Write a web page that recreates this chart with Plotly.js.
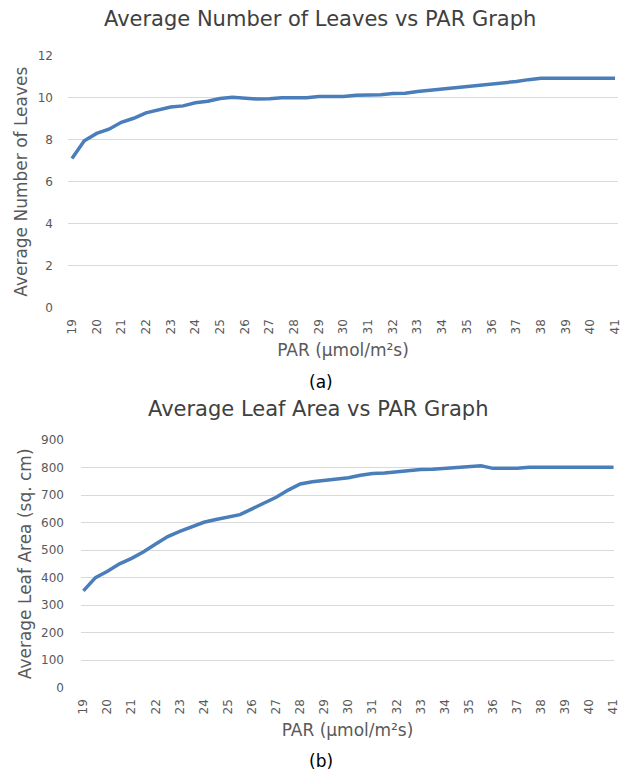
<!DOCTYPE html>
<html>
<head>
<meta charset="utf-8">
<script src="https://cdn.plot.ly/plotly-3.0.1.min.js"></script>
<style>html,body{margin:0;padding:0;background:#fff;}#chart{width:633px;height:772px;}</style>
</head>
<body>
<div id="chart"></div>
<script>
const par = [19, 19.5, 20, 20.5, 21, 21.5, 22, 22.5, 23, 23.5, 24, 24.5, 25, 25.5, 26, 26.5, 27, 27.5, 28, 28.5, 29, 29.5, 30, 30.5, 31, 31.5, 32, 32.5, 33, 33.5, 34, 34.5, 35, 35.5, 36, 36.5, 37, 37.5, 38, 38.5, 39, 39.5, 40, 40.5, 41];
const avgLeaves = [7.1, 7.95, 8.3, 8.5, 8.83, 9.02, 9.28, 9.44, 9.56, 9.61, 9.76, 9.83, 9.96, 10.02, 9.96, 9.94, 9.95, 10.0, 10.0, 10.0, 10.06, 10.06, 10.06, 10.12, 10.13, 10.14, 10.2, 10.21, 10.3, 10.36, 10.39, 10.47, 10.54, 10.6, 10.67, 10.73, 10.77, 10.86, 10.93, 10.93, 10.93, 10.93, 10.93, 10.93, 10.93];
const avgLeafArea = [352, 400, 423, 450, 470, 494, 522, 549, 568, 586, 601, 611, 620, 629, 650, 670, 692, 718, 740, 748, 753, 758, 763, 772, 778, 780, 785, 789, 793, 794, 797, 798, 800, 806, 797, 797, 797, 801, 801, 801, 801, 801, 801, 801, 801];
const xTicks = [19, 20, 21, 22, 23, 24, 25, 26, 27, 28, 29, 30, 31, 32, 33, 34, 35, 36, 37, 38, 39, 40, 41];
const titleA = "Average Number of Leaves vs PAR Graph";
const titleB = "Average Leaf Area vs PAR Graph";
const xTitle = "PAR (µmol/m²s)";
const yTitleA = "Average Number of Leaves";
const yTitleB = "Average Leaf Area (sq. cm)";

const FONT = "DejaVu Sans, sans-serif";
const lineColor = "#4A7EBB";
const tickFont = {family: FONT, size: 12, color: "#595959"};
const axTitleFont = {family: FONT, size: 17, color: "#595959"};

const traces = [
  {x: par, y: avgLeaves, type: "scatter", mode: "lines", line: {color: lineColor, width: 3.5, shape: "linear"}, xaxis: "x", yaxis: "y", hoverinfo: "skip"},
  {x: par, y: avgLeafArea, type: "scatter", mode: "lines", line: {color: lineColor, width: 3.5, shape: "linear"}, xaxis: "x2", yaxis: "y2", hoverinfo: "skip"}
];

function xAxis(domain, range, anchor) {
  return {
    domain: domain, range: range, anchor: anchor,
    tickmode: "array", tickvals: xTicks, ticktext: xTicks.map(String),
    tickangle: -90, tickfont: tickFont, ticks: "", ticklabelstandoff: 8,
    showgrid: false, zeroline: false, showline: false,
    title: {text: xTitle, font: axTitleFont, standoff: 10}
  };
}
function yAxis(domain, range, dtick, anchor, title, lblGap) {
  return {
    domain: domain, range: range, anchor: anchor, dtick: dtick, tick0: 0,
    tickfont: tickFont, ticks: "", ticklabelstandoff: lblGap,
    showgrid: true, gridcolor: "#d9d9d9", gridwidth: 1,
    zeroline: false, showline: false,
    title: {text: title, font: axTitleFont, standoff: 5}
  };
}

const layout = {
  width: 633, height: 772,
  margin: {l: 0, r: 0, t: 0, b: 0},
  paper_bgcolor: "#ffffff", plot_bgcolor: "#ffffff",
  showlegend: false,
  font: {family: FONT},
  xaxis: xAxis([68/633, 618/633], [18.84, 41.12], "y"),
  yaxis: yAxis([1 - 307.7/772, 1 - 55.7/772], [0, 12], 2, "x", yTitleA, 14),
  xaxis2: xAxis([81/633, 614/633], [18.9, 41.02], "y2"),
  yaxis2: yAxis([1 - 687.7/772, 1 - 440/772], [0, 900], 100, "x2", yTitleB, 16),
  annotations: [
    {text: titleA, xref: "paper", yref: "paper", x: 0.505, y: 1 - 19/772, xanchor: "center", yanchor: "middle", showarrow: false, font: {family: FONT, size: 21, color: "#404040"}},
    {text: titleB, xref: "paper", yref: "paper", x: 0.503, y: 1 - 409/772, xanchor: "center", yanchor: "middle", showarrow: false, font: {family: FONT, size: 21, color: "#404040"}},
    {text: "(a)", xref: "paper", yref: "paper", x: 0.507, y: 1 - 382/772, xanchor: "center", yanchor: "middle", showarrow: false, font: {family: FONT, size: 17, color: "#000000"}},
    {text: "(b)", xref: "paper", yref: "paper", x: 0.507, y: 1 - 761/772, xanchor: "center", yanchor: "middle", showarrow: false, font: {family: FONT, size: 17, color: "#000000"}}
  ]
};

Plotly.newPlot("chart", traces, layout, {staticPlot: true, displayModeBar: false});
</script>
</body>
</html>
